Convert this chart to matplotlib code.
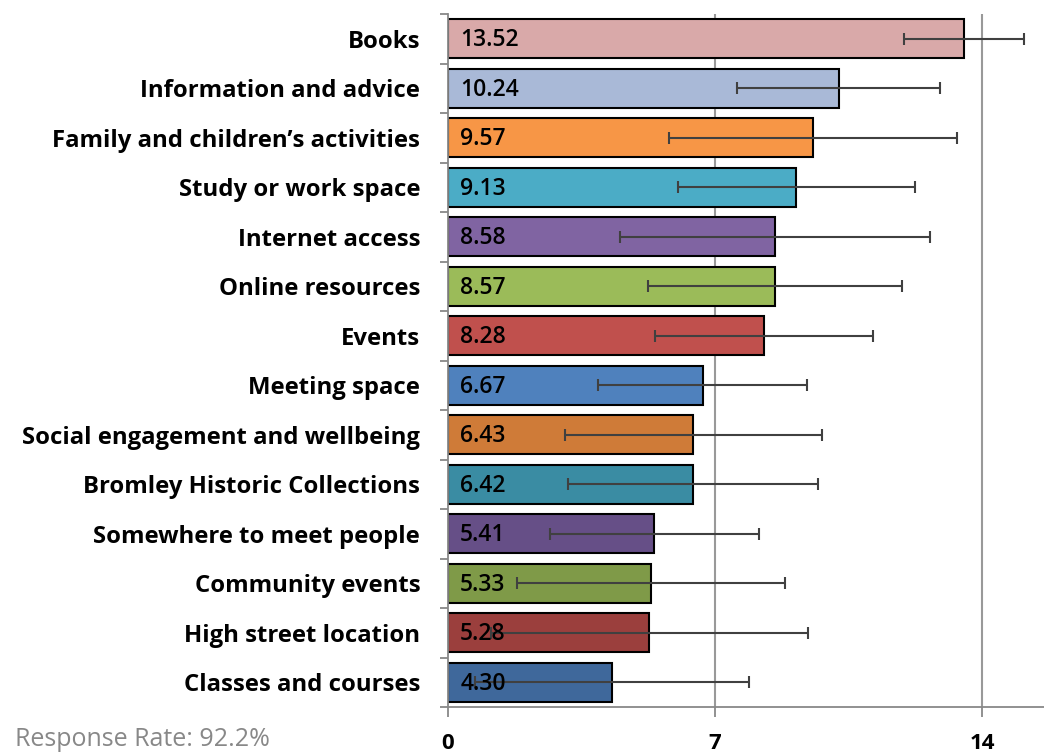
import matplotlib.pyplot as plt
import numpy as np

plt.rcParams['font.family'] = ['Open Sans', 'DejaVu Sans']

categories = ["Books", "Information and advice", "Family and children\u2019s activities",
              "Study or work space", "Internet access", "Online resources", "Events",
              "Meeting space", "Social engagement and wellbeing",
              "Bromley Historic Collections", "Somewhere to meet people",
              "Community events", "High street location", "Classes and courses"]
values = [13.52, 10.24, 9.57, 9.13, 8.58, 8.57, 8.28, 6.67, 6.43, 6.42, 5.41, 5.33, 5.28, 4.30]
errors = [1.58, 2.66, 3.78, 3.10, 4.06, 3.32, 2.86, 2.75, 3.36, 3.28, 2.73, 3.51, 4.15, 3.58]
colors = ["#D9A9A9", "#A9B9D7", "#F79646", "#4BACC6", "#8064A2", "#9BBB59", "#C0504D",
          "#4F81BD", "#CF7B38", "#3A8CA3", "#664F87", "#7F9A48", "#9B3F3D", "#3F689B"]
ticks = [0, 7, 14]

fig = plt.figure(figsize=(10.44, 7.55), dpi=100)
ax = fig.add_axes([448 / 1044, (755 - 707) / 755, (1044 - 448) / 1044, (707 - 14) / 755])

y = np.arange(len(categories))
ax.barh(y, values, height=0.78, color=colors, edgecolor="black", linewidth=1.5, zorder=2)
ax.errorbar(values, y, xerr=errors, fmt="none", ecolor="#404040", elinewidth=1.5,
            capsize=4, capthick=1.5, zorder=3)

for yi, v in zip(y, values):
    ax.text(0.32, yi + 0.03, f"{v:.2f}", va="center", ha="left", fontsize=16.5,
            fontweight="semibold", color="black", zorder=4)

ax.set_ylim(len(categories) - 0.5, -0.5)
ax.set_xlim(0, 15.62)

ax.set_yticks(y)
ax.set_yticklabels(categories, fontsize=17.2, fontweight="bold")
ax.set_yticks(np.arange(-0.5, len(categories), 1), minor=True)
ax.tick_params(axis="y", which="major", length=0, pad=20)
ax.tick_params(axis="y", which="minor", length=6, color="#888888", width=1.3)

ax.set_xticks(ticks)
ax.set_xticklabels([str(t) for t in ticks], fontsize=16, fontweight="bold")
ax.tick_params(axis="x", length=7, color="#888888", width=1.3, pad=12)

for t in ticks[1:]:
    ax.axvline(t, color="#999999", linewidth=1.5, zorder=1)

for s in ["top", "right"]:
    ax.spines[s].set_visible(False)
for s in ["left", "bottom"]:
    ax.spines[s].set_color("#888888")
    ax.spines[s].set_linewidth(1.3)

fig.text(15 / 1044, 1 - 739 / 755, "Response Rate: 92.2%", fontsize=18, color="#888888",
         va="center", ha="left")

fig.savefig("out.png", dpi=100)
